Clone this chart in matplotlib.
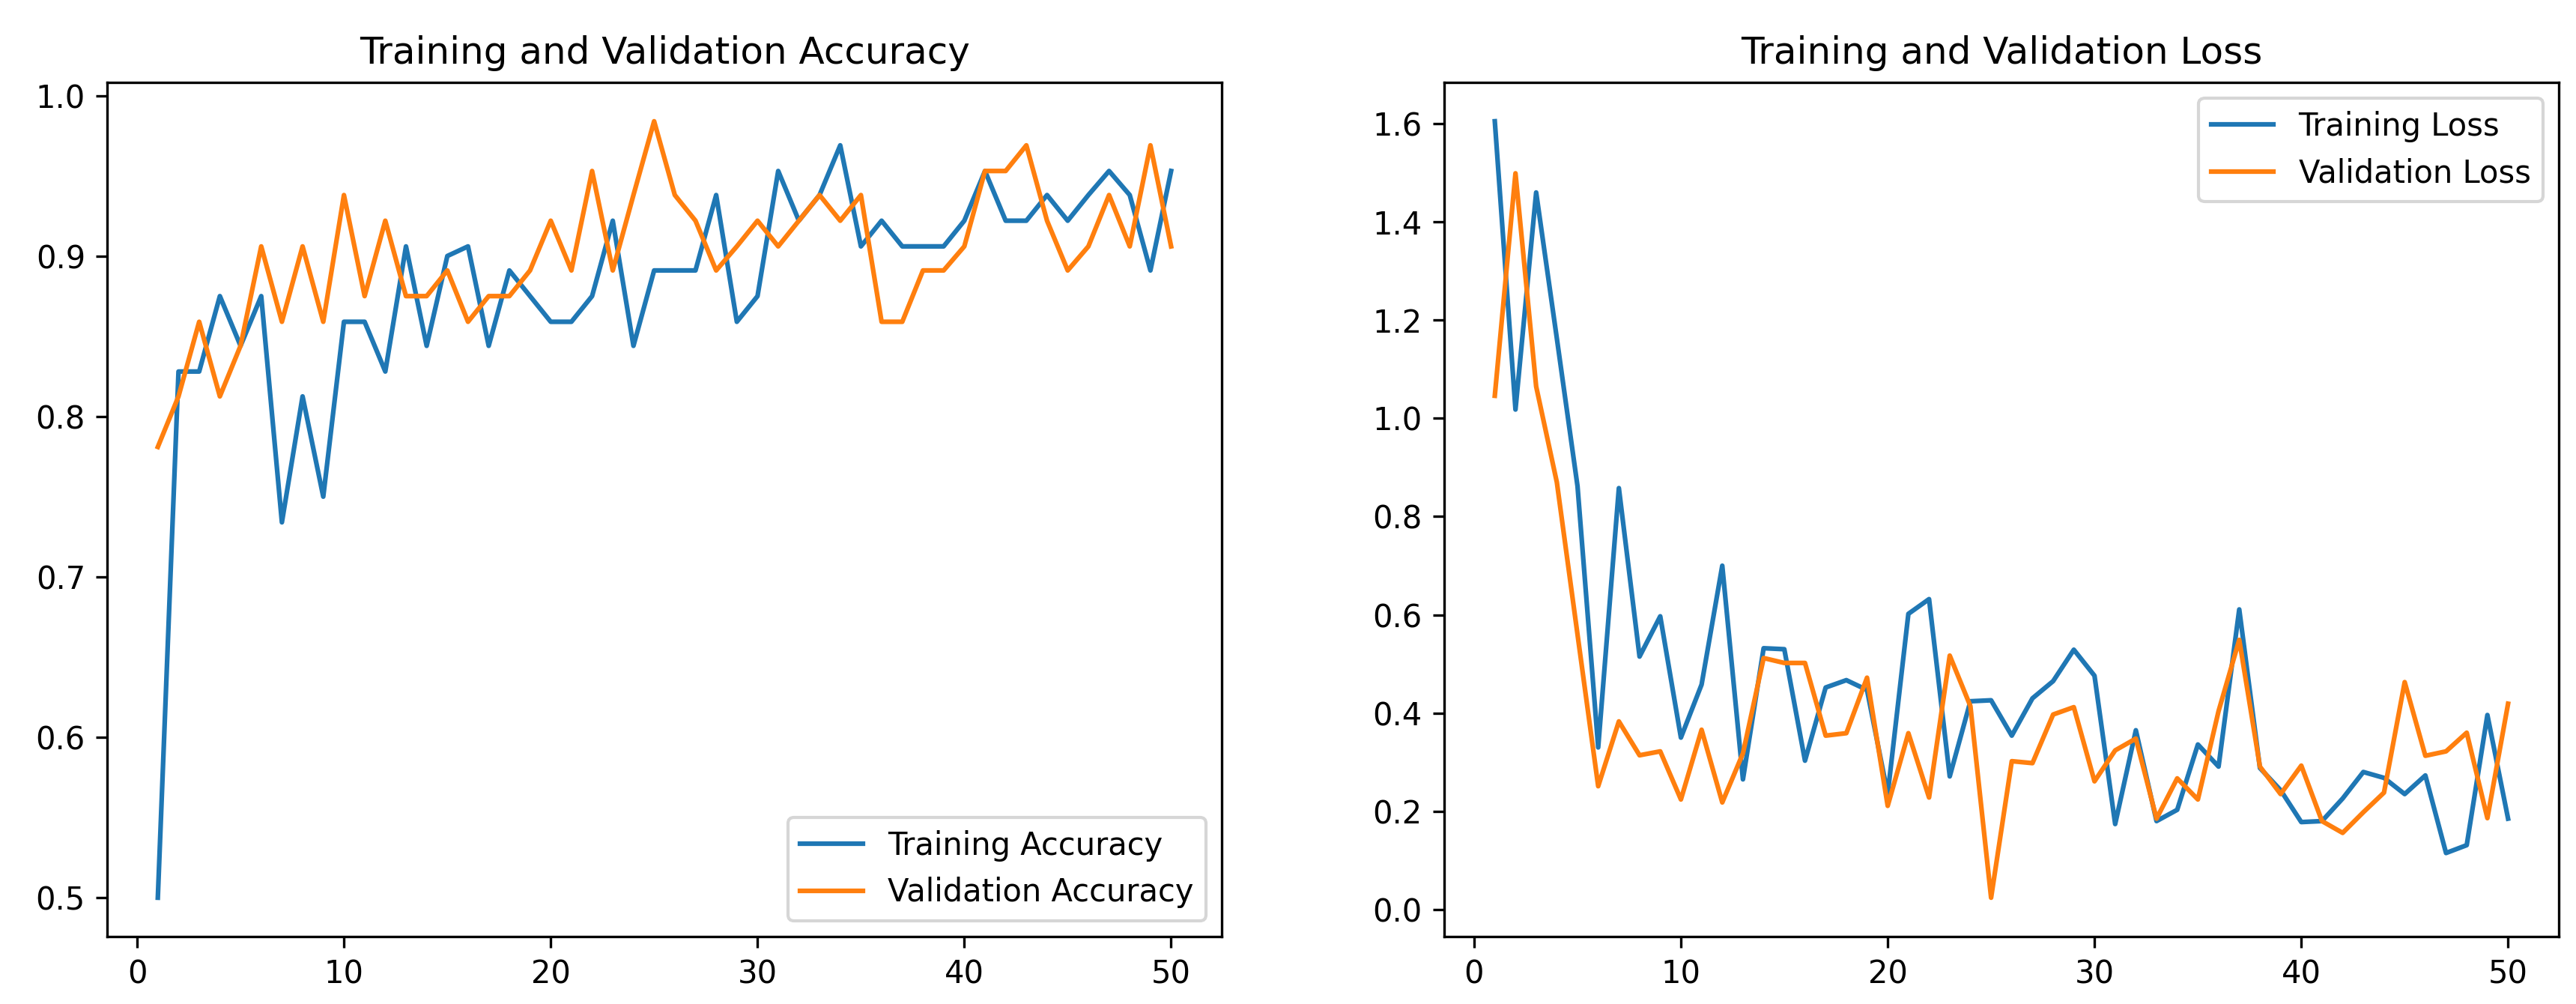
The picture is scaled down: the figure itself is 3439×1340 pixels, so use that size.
import matplotlib
matplotlib.use("Agg")
import matplotlib.pyplot as plt

epochs = list(range(1, 51))

train_acc = [0.5, 0.828, 0.828, 0.875, 0.844, 0.875, 0.734, 0.8125, 0.75, 0.859,
             0.859, 0.828, 0.906, 0.844, 0.900, 0.906, 0.844, 0.891, 0.875, 0.859,
             0.859, 0.875, 0.922, 0.844, 0.891, 0.891, 0.891, 0.938, 0.859, 0.875,
             0.953, 0.922, 0.938, 0.969, 0.906, 0.922, 0.906, 0.906, 0.906, 0.922,
             0.953, 0.922, 0.922, 0.938, 0.922, 0.938, 0.953, 0.938, 0.891, 0.953]
val_acc = [0.781, 0.8125, 0.859, 0.8125, 0.844, 0.906, 0.859, 0.906, 0.859, 0.938,
           0.875, 0.922, 0.875, 0.875, 0.891, 0.859, 0.875, 0.875, 0.891, 0.922,
           0.891, 0.953, 0.891, 0.938, 0.984, 0.938, 0.922, 0.891, 0.906, 0.922,
           0.906, 0.922, 0.938, 0.922, 0.938, 0.859, 0.859, 0.891, 0.891, 0.906,
           0.953, 0.953, 0.969, 0.922, 0.891, 0.906, 0.938, 0.906, 0.969, 0.906]

train_loss = [1.605, 1.018, 1.46, 1.163, 0.862, 0.33, 0.858, 0.515, 0.597, 0.35,
              0.458, 0.70, 0.265, 0.532, 0.530, 0.303, 0.452, 0.467, 0.447, 0.235,
              0.602, 0.632, 0.271, 0.424, 0.426, 0.354, 0.43, 0.465, 0.529, 0.476,
              0.174, 0.365, 0.18, 0.203, 0.336, 0.291, 0.611, 0.288, 0.243, 0.178,
              0.18, 0.226, 0.28, 0.268, 0.235, 0.273, 0.115, 0.131, 0.396, 0.185]
val_loss = [1.046, 1.499, 1.065, 0.87, 0.56, 0.251, 0.383, 0.314, 0.322, 0.224,
            0.366, 0.218, 0.318, 0.512, 0.502, 0.502, 0.354, 0.359, 0.472, 0.211,
            0.359, 0.228, 0.517, 0.414, 0.024, 0.302, 0.298, 0.397, 0.412, 0.261,
            0.324, 0.348, 0.185, 0.267, 0.224, 0.404, 0.549, 0.291, 0.235, 0.293,
            0.18, 0.156, 0.198, 0.238, 0.463, 0.313, 0.322, 0.36, 0.186, 0.419]

fig = plt.figure(figsize=(3439 / 300, 1340 / 300), dpi=300)
plt.subplots_adjust(left=0.0416, right=0.9933, bottom=0.0672, top=0.9179, wspace=0.1995)

plt.subplot(1, 2, 1)
plt.plot(epochs, train_acc, label='Training Accuracy')
plt.plot(epochs, val_acc, label='Validation Accuracy')
plt.legend(loc='lower right')
plt.title('Training and Validation Accuracy')

plt.subplot(1, 2, 2)
plt.plot(epochs, train_loss, label='Training Loss')
plt.plot(epochs, val_loss, label='Validation Loss')
plt.legend(loc='upper right')
plt.title('Training and Validation Loss')

plt.savefig('out.png', dpi=300)
